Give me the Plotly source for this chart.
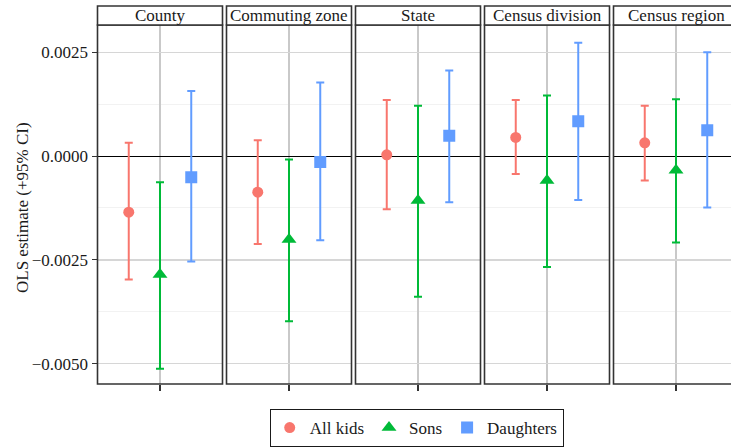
import plotly.graph_objects as go

# ---- data ----
panels = ["County", "Commuting zone", "State", "Census division", "Census region"]
series = ["All kids", "Sons", "Daughters"]

all_est = [-0.00135, -0.00087, 0.00003, 0.00045, 0.00032]
all_lo = [-0.00297, -0.00212, -0.00128, -0.00043, -0.00059]
all_hi = [0.00032, 0.00038, 0.00135, 0.00135, 0.00121]

sons_est = [-0.00285, -0.00201, -0.00107, -0.00059, -0.00034]
sons_lo = [-0.00512, -0.00398, -0.00339, -0.00267, -0.00208]
sons_hi = [-0.00063, -0.00008, 0.00121, 0.00146, 0.00137]

dau_est = [-0.00051, -0.00014, 0.00049, 0.00084, 0.00062]
dau_lo = [-0.00254, -0.00203, -0.00111, -0.00106, -0.00124]
dau_hi = [0.00157, 0.00177, 0.00206, 0.00273, 0.00250]

ytick_vals = [-0.005, -0.0025, 0.0, 0.0025]
ytick_text = ["\u22120.0050", "\u22120.0025", "0.0000", "0.0025"]
yminor_vals = [-0.00375, -0.00125, 0.00125]
ytitle = "OLS estimate (+95% CI)"

colors = ["#F8766D", "#00BA38", "#619CFF"]
symbols = ["circle", "triangle-up", "square"]
sizes = [11, 13, 12]
offsets = [-0.3, 0.0, 0.3]

est = [all_est, sons_est, dau_est]
lo = [all_lo, sons_lo, dau_lo]
hi = [all_hi, sons_hi, dau_hi]

FONT = "Liberation Serif, Times New Roman, serif"
W, H = 731, 448
L, R, T, B = 97, 0, 25, 64
plot_w = W - L - R
plot_h = H - T - B
panel_w = 125
step = 129
first_left = 0.5

yrange = [-0.00549, 0.003158]

fig = go.Figure()
for p in range(len(panels)):
    xa = "x" if p == 0 else f"x{p+1}"
    ya = "y" if p == 0 else f"y{p+1}"
    for s in range(3):
        e = est[s][p]
        fig.add_trace(go.Scatter(
            x=[1 + offsets[s]], y=[e],
            mode="markers",
            marker=dict(color=colors[s], symbol=symbols[s], size=sizes[s]),
            error_y=dict(type="data", symmetric=False,
                         array=[hi[s][p] - e], arrayminus=[e - lo[s][p]],
                         color=colors[s], thickness=2, width=4),
            name=series[s], legendgroup=series[s], showlegend=(p == 0),
            xaxis=xa, yaxis=ya,
        ))

def px_x(xpx):
    return (xpx - L) / plot_w

def px_y(ypx):
    return (T + plot_h - ypx) / plot_h

layout = dict(
    width=W, height=H,
    margin=dict(l=L, r=R, t=T, b=B, autoexpand=False),
    plot_bgcolor="white", paper_bgcolor="white",
    font=dict(family=FONT, size=16, color="#1a1a1a"),
    hovermode=False,
    showlegend=True,
    legend=dict(orientation="h", x=px_x(416.7), xanchor="center",
                y=px_y(447), yanchor="bottom",
                bordercolor="#1a1a1a", borderwidth=1, font=dict(family=FONT, size=17),
                itemwidth=30, tracegroupgap=0),
)
shapes = []
annotations = []
for p in range(len(panels)):
    left_px = first_left + step * p
    right_px = left_px + panel_w
    d0 = left_px / plot_w
    d1 = min(right_px / plot_w, 1.0)
    xr_hi = 0.4 + (min(right_px, plot_w) - left_px) / panel_w * 1.2
    key = "" if p == 0 else str(p + 1)
    layout[f"xaxis{key}"] = dict(
        domain=[d0, d1], range=[0.4, xr_hi], anchor=f"y{key}",
        tickvals=[1], showticklabels=False, ticks="outside", ticklen=6,
        tickcolor="#333333", tickwidth=1.5,
        showgrid=True, gridcolor="#c9c9c9", gridwidth=1.2,
        zeroline=False, showline=False, fixedrange=True, automargin=False,
    )
    layout[f"yaxis{key}"] = dict(
        domain=[0, 1], range=yrange, anchor=f"x{key}",
        tickvals=ytick_vals, ticktext=ytick_text,
        showticklabels=(p == 0), ticks="outside" if p == 0 else "", ticklen=5,
        tickcolor="#333333", tickwidth=1.2,
        tickfont=dict(family=FONT, size=17, color="#1a1a1a"),
        showgrid=True, gridcolor="#d6d6d6", gridwidth=1.5,
        minor=dict(tickvals=yminor_vals, showgrid=True, gridcolor="#f2f2f2", gridwidth=1),
        zeroline=True, zerolinecolor="#000000", zerolinewidth=1.2,
        showline=False, fixedrange=True, automargin=False,
    )
    # panel border
    x0 = left_px / plot_w
    x1 = right_px / plot_w
    shapes.append(dict(type="rect", xref="paper", yref="paper", x0=x0, x1=x1, y0=0, y1=1,
                       line=dict(color="#333333", width=1.6), fillcolor="rgba(0,0,0,0)", layer="above"))
    # strip
    strip_top = px_y(6)
    shapes.append(dict(type="rect", xref="paper", yref="paper", x0=x0, x1=x1, y0=1, y1=strip_top,
                       line=dict(color="#333333", width=1.6), fillcolor="white", layer="above"))
    annotations.append(dict(text=panels[p], xref="paper", yref="paper",
                            x=(x0 + x1) / 2, y=(1 + strip_top) / 2,
                            xanchor="center", yanchor="middle", showarrow=False,
                            font=dict(family=FONT, size=17, color="#1a1a1a")))

annotations.append(dict(text=ytitle, xref="paper", yref="paper",
                        x=px_x(22), y=px_y(208), textangle=-90,
                        xanchor="center", yanchor="middle", showarrow=False,
                        font=dict(family=FONT, size=17, color="#1a1a1a")))

layout["shapes"] = shapes
layout["annotations"] = annotations
fig.update_layout(**layout)
fig.write_html("out.html",
               config={"displayModeBar": False, "staticPlot": True},
               post_script="document.body.style.margin='0px';document.body.style.overflow='hidden';")
